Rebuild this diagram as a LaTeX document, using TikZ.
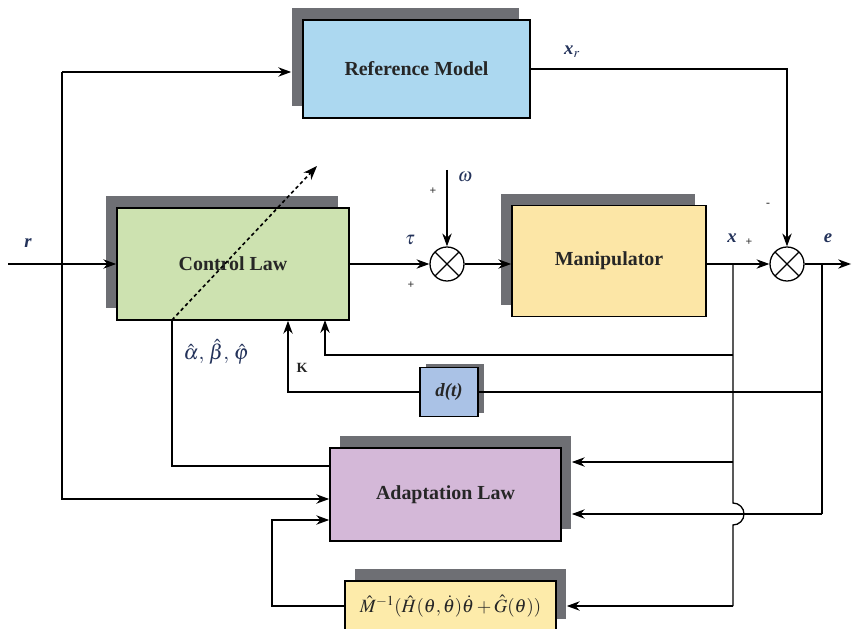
\documentclass[tikz,border=0pt]{standalone}
\usepackage{amsmath,amssymb}
\usepackage{mathptmx}
\usepackage{fontspec}
\setmainfont{Liberation Serif}
\usepackage{tikz}
\usetikzlibrary{positioning,shadows,arrows.meta}
\definecolor{refBlue}{RGB}{172,216,240}
\definecolor{ctrlGreen}{RGB}{205,226,176}
\definecolor{maniYellow}{RGB}{252,230,166}
\definecolor{adaptPurple}{RGB}{212,184,216}
\definecolor{minvYellow}{RGB}{253,235,170}
\definecolor{dtBlue}{RGB}{170,194,230}
\definecolor{shGray}{RGB}{110,111,116}
\definecolor{lblNavy}{RGB}{35,50,90}
\tikzstyle{arrow} = [line width=1.1pt,-{Stealth[length=11pt,width=8pt]}]
\tikzstyle{wire} = [line width=1.1pt]
\tikzstyle{tuneArrow} = [line width=1.4pt,dash pattern=on 3pt off 2.5pt,-{Stealth[length=12pt,width=9pt]}]
\tikzstyle{tRect} = [rectangle, draw=black, line width=1.4pt, align=center, text=black!85, font=\fontsize{17}{20}\selectfont\bfseries]
\tikzstyle{shadeL} = [drop shadow={shadow xshift=-0.33cm, shadow yshift=0.35cm, fill=shGray, opacity=1}]
\tikzstyle{shadeR} = [drop shadow={shadow xshift=0.3cm, shadow yshift=0.35cm, fill=shGray, opacity=1}]
\tikzstyle{tSum} = [circle, draw=black, line width=1.1pt, minimum size=1.02cm, inner sep=0pt,
  path picture={\draw[line width=1.1pt] (path picture bounding box.south west) -- (path picture bounding box.north east)
                 (path picture bounding box.north west) -- (path picture bounding box.south east);}]
\tikzstyle{lbl} = [text=lblNavy, font=\fontsize{16}{19}\selectfont]
\tikzstyle{sgn} = [text=black!80, font=\fontsize{10}{12}\selectfont\bfseries]

\begin{document}
\begin{tikzpicture}[x=0.03cm,y=-0.03cm]
        \useasboundingbox (0,0) rectangle (852,629);
        % blocks
        \node[tRect, shadeL, fill=refBlue, minimum width=6.81cm, minimum height=2.94cm] (refm) at (416.5,69) {Reference Model};
        \node[tRect, shadeL, fill=ctrlGreen, minimum width=6.96cm, minimum height=3.36cm] (ctrl) at (233,264) {Control Law};
        \node[tRect, shadeL, fill=maniYellow, minimum width=5.82cm, minimum height=3.33cm] (manip) at (609,261) {Manipulator};
        \node[tRect, shadeR, fill=adaptPurple, minimum width=6.93cm, minimum height=2.79cm] (adapt) at (445.5,494.5) {Adaptation Law};
        \node[tRect, shadeR, fill=minvYellow, minimum width=6.33cm, minimum height=1.5cm, font=\fontsize{16}{19}\selectfont] (minv) at (450.5,606)
            {$\hat{M}^{-1}(\hat{H}(\theta,\dot{\theta})\dot{\theta}+\hat{G}(\theta))$};
        \node[tRect, drop shadow={shadow xshift=0.18cm, shadow yshift=0.1cm, fill=shGray, opacity=1}, fill=dtBlue,
            minimum width=1.74cm, minimum height=1.47cm, font=\fontsize{16}{19}\selectfont\bfseries\itshape] (dt) at (449,392) {d(t)};
        \node[tSum] (sum1) at (447,264) {};
        \node[tSum] (sum2) at (787,264) {};

        % junctions and free ends
        \coordinate (rIn) at (8,264);
        \coordinate (rTop) at (62,72);
        \coordinate (rBot) at (62,499);
        \coordinate (wIn) at (447,170);
        \coordinate (eOut) at (851,264);
        \coordinate (xTap) at (733,264);
        \coordinate (xK) at (733,355);
        \coordinate (xA) at (733,462);
        \coordinate (xHop) at (733,503);
        \coordinate (xLow) at (733,606);
        \coordinate (eTap) at (822,264);
        \coordinate (eD) at (822,392);
        \coordinate (eLow) at (822,514);
        \coordinate (kCorner) at (288,392);
        \coordinate (cIn) at (325,320);
        \coordinate (aTap) at (172,320);
        \coordinate (aCorner) at (172,466);
        \coordinate (tuneTip) at (317,166);
        \coordinate (mCorner) at (272,606);
        \coordinate (mUp) at (272,520);

        % forward path
        \draw[arrow] (rIn) -- (ctrl.west);
        \draw[arrow] (ctrl.east |- sum1) -- (sum1.west);
        \draw[arrow] (wIn) -- (sum1.north);
        \draw[arrow] (sum1.east) -- (sum1.east -| manip.west);
        \draw[arrow] (manip.east |- sum2) -- (sum2.west);
        \draw[arrow] (refm.east) -| (sum2.north);
        \draw[arrow] (sum2.east) -- (eOut);
        \draw[arrow, shorten >=0.33cm] (rTop) -- (rTop -| refm.west);
        \draw[arrow] (rTop) -- (rBot) -- (rBot -| adapt.west);

        % feedback of x
        \draw[wire] (xTap) -- (xHop) arc[start angle=90, end angle=-90, radius=0.33cm] -- (xLow);
        \draw[arrow, shorten >=0.3cm] (xLow) -- (minv.east |- xLow);
        \draw[arrow] (xK) -| (cIn);
        \draw[arrow, shorten >=0.3cm] (xA) -- (xA -| adapt.east);

        % feedback of e
        \draw[wire] (eTap) -- (eLow);
        \draw[arrow, shorten >=0.3cm] (eLow) -- (eLow -| adapt.east);
        \draw[wire] (eD) -- (dt.east);
        \draw[arrow] (dt.west) -- (kCorner) -- (kCorner |- ctrl.south);

        % adaptation loop
        \draw[wire] (aTap) -- (aCorner) -- (aCorner -| adapt.west);
        \draw[arrow] (minv.west) -- (mCorner) -- (mUp) -- (mUp -| adapt.west);
        \draw[tuneArrow] (aTap) -- (tuneTip);

        % labels
        \node[lbl] at (28,243) {\textbf{\textit{r}}};
        \node[lbl] at (410,240) {$\boldsymbol{\tau}$};
        \node[lbl] at (465,177) {$\omega$};
        \node[lbl] at (732,238) {\textbf{\textit{x}}};
        \node[lbl] at (828,238) {\textbf{\textit{e}}};
        \node[lbl] at (572,52) {\textbf{\textit{x}}$_{\boldsymbol{r}}$};
        \node[lbl, font=\fontsize{18}{21}\selectfont] at (216,352) {$\hat{\alpha},\,\hat{\beta},\,\hat{\varphi}$};
        \node[sgn] at (411,285) {+};
        \node[sgn] at (433,191) {+};
        \node[sgn] at (749,242) {+};
        \node[sgn] at (768,205) {-};
        \node[font=\fontsize{12}{14}\selectfont\bfseries, text=black!85] at (302,368) {K};
\end{tikzpicture}
\end{document}
